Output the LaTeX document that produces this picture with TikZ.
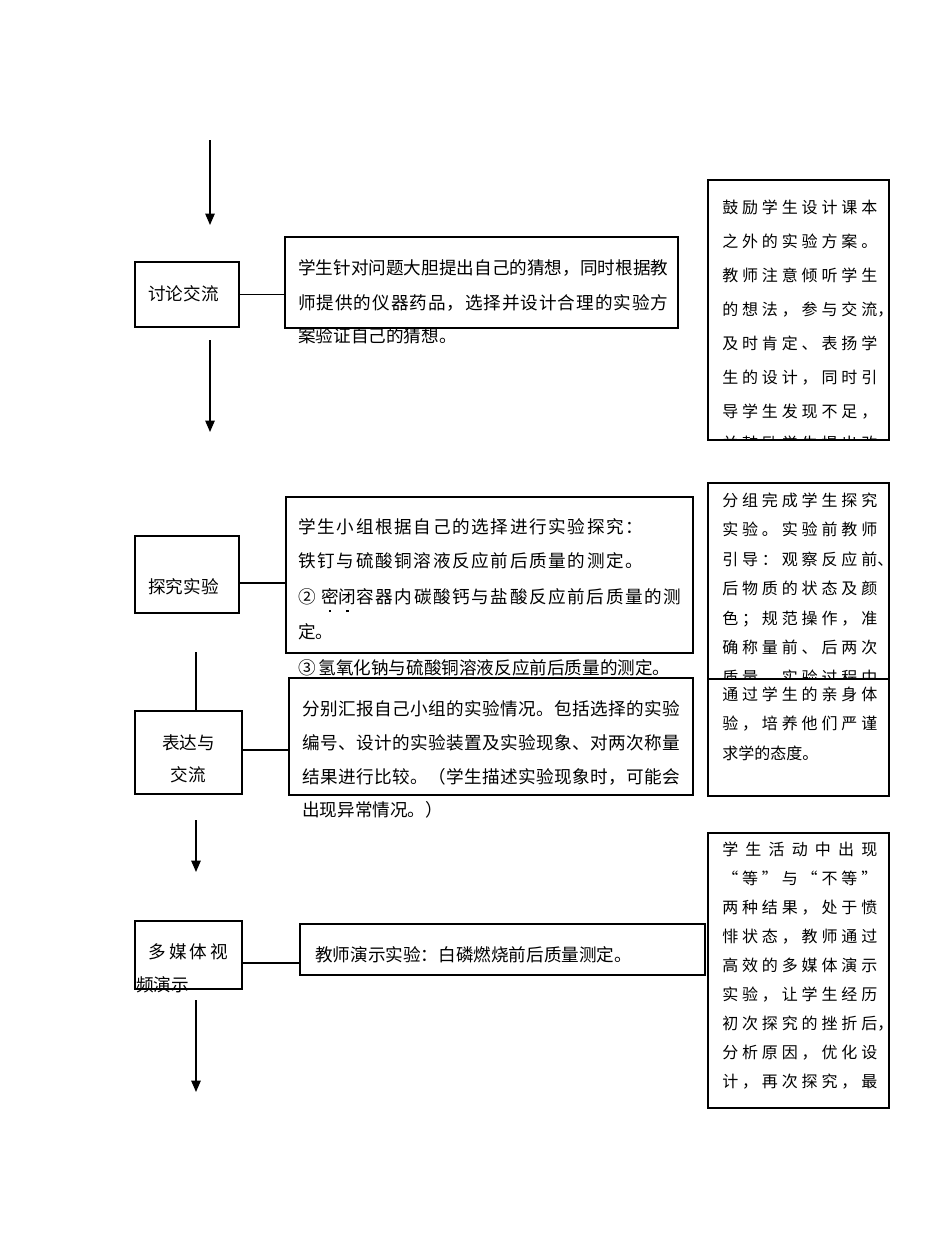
\documentclass[tikz,border=0pt]{standalone}
\usepackage{fontspec}
\newfontfamily\cjk{Noto Sans CJK SC}
\usetikzlibrary{arrows.meta}
\newcommand\emdot[1]{\setbox0=\hbox{#1}\makebox[0pt][l]{\makebox[\wd0]{\raisebox{-6.5pt}{\rule{1.8pt}{1.8pt}}}}\box0}
\newcommand\rbox[5]{\node[rect, anchor=north west, minimum width={(#4-#2)*0.75pt}, minimum height={(#5-#3)*0.75pt}] (#1) at (#2,#3) {};}
\newcommand\jl[2]{\makebox[#1][s]{\spaceskip=0pt plus 1fil\relax #2}}
\begin{document}
\begin{tikzpicture}[x=0.75pt,y=-0.75pt,
  rect/.style={draw, line width=0.9pt, inner sep=0pt, outer sep=0pt},
  txt/.style={anchor=base west, inner sep=0pt, font=\cjk\fontsize{13.2}{16}\selectfont},
  stxt/.style={anchor=base west, inner sep=0pt, font=\cjk\fontsize{12}{14}\selectfont},
  arr/.style={line width=1.2pt, -{Triangle[length=8.5pt,width=7pt]}},
  link/.style={line width=0.9pt}]
\fill[white] (0,0) rectangle (950,1235);
\useasboundingbox (0,0) rectangle (950,1235);

% boxes
\rbox{b1}{135}{262}{239}{327}
\rbox{b2}{135}{536}{239}{613}
\rbox{b3}{135}{711}{242}{794}
\rbox{b4}{135}{921}{242}{989}
\rbox{t1}{285}{237}{678}{328}
\rbox{t2}{286}{497}{693}{653}
\rbox{t3}{289}{678}{693}{795}
\rbox{t4}{300}{924}{705}{975}
\rbox{r1}{708}{180}{889}{440}
\rbox{r2}{708}{483}{889}{679}
\rbox{r3}{708}{679}{889}{796}
\rbox{r4}{708}{833}{889}{1108}

% arrows
\coordinate (a1s) at (210,140); \coordinate (a1e) at (210,225);
\coordinate (a2s) at (210,340); \coordinate (a2e) at (210,432);
\coordinate (a3s) at (196,820); \coordinate (a3e) at (196,872);
\coordinate (a4s) at (196,1000); \coordinate (a4e) at (196,1092);
\draw[arr] (a1s) -- (a1e);
\draw[arr] (a2s) -- (a2e);
\draw[arr] (a3s) -- (a3e);
\draw[arr] (a4s) -- (a4e);
\coordinate (v1) at (196,652);
\draw[link] (v1) -- (v1 |- b3.north);

% connectors
\draw[link] (b1.east) -- (b1.east -| t1.west);
\draw[link] ([yshift=-6.4pt]b2.east) -- ([yshift=-6.4pt]b2.east -| t2.west);
\draw[link] ([yshift=1.9pt]b3.east) -- ([yshift=1.9pt]b3.east -| t3.west);
\draw[link] ([yshift=-6pt]b4.east) -- ([yshift=-6pt]b4.east -| t4.west);

% left labels
\node[txt] (l1) at (148,300.5) {讨论交流};
\node[txt] (l2) at (148,593.5) {探究实验};
\node[txt, anchor=base] (l3a) at (188.5,749.5) {表达与};
\node[txt, anchor=base] (l3b) at (188.5,781.5) {交流};
\node[txt] (l4a) at (148,958.5) {\jl{60pt}{多 媒 体 视}};
\node[txt] (l4b) at (136,991.5) {频演示};

% text box 1
\node[txt] (p1a) at (298,274.5) {\jl{277.5pt}{学 生 针 对 问 题 大 胆 提 出 自 己 的 猜 想 ， 同 时 根 据 教}};
\node[txt] (p1b) at (298,309.5) {\jl{277.5pt}{师 提 供 的 仪 器 药 品 ， 选 择 并 设 计 合 理 的 实 验 方}};
\node[txt] (p1c) at (298,342.5) {案验证自己的猜想。};

% text box 2
\node[txt] (p2a) at (298,533.5) {\jl{258.75pt}{学 生 小 组 根 据 自 己 的 选 择 进 行 实 验 探 究 ：}};
\node[txt] (p2b) at (298,567.5) {\jl{258.75pt}{铁 钉 与 硫 酸 铜 溶 液 反 应 前 后 质 量 的 测 定 。}};
\node[txt] (p2c) at (298,603.5) {\jl{287.25pt}{②\kern4pt \emdot{密} \emdot{闭} 容 器 内 碳 酸 钙 与 盐 酸 反 应 前 后 质 量 的 测}};
\node[txt] (p2d) at (298,638.5) {定。};
\node[txt] (p2e) at (298,674.5) {③\kern2pt 氢氧化钠与硫酸铜溶液反应前后质量的测定。};

% text box 3
\node[txt] (p3a) at (302,715.5) {\jl{283.5pt}{分 别 汇 报 自 己 小 组 的 实 验 情 况 。 包 括 选 择 的 实 验}};
\node[txt] (p3b) at (302,749.5) {\jl{283.5pt}{编 号 、 设 计 的 实 验 装 置 及 实 验 现 象 、 对 两 次 称 量}};
\node[txt] (p3c) at (302,783.5) {\jl{283.5pt}{结 果 进 行 比 较 。 （ 学 生 描 述 实 验 现 象 时 ， 可 能 会}};
\node[txt] (p3d) at (302,816.5) {出现异常情况。）};

% text box 4
\node[txt] (p4a) at (315,961.5) {教师演示实验：白磷燃烧前后质量测定。};

% right box 1
\begin{scope}
\clip (708,180) rectangle (889,440);
\node[stxt] (q1a) at (722,213) {\jl{116.25pt}{鼓 励 学 生 设 计 课 本}};
\node[stxt] (q1b) at (722,247) {\jl{116.25pt}{之 外 的 实 验 方 案 。}};
\node[stxt] (q1c) at (722,281) {\jl{116.25pt}{教 师 注 意 倾 听 学 生}};
\node[stxt] (q1d) at (722,315) {\jl{116.25pt}{的 想 法 ， 参 与 交 流}\rlap{，}};
\node[stxt] (q1e) at (722,349) {\jl{116.25pt}{及 时 肯 定 、 表 扬 学}};
\node[stxt] (q1f) at (722,383) {\jl{116.25pt}{生 的 设 计 ， 同 时 引}};
\node[stxt] (q1g) at (722,417) {\jl{116.25pt}{导 学 生 发 现 不 足 ，}};
\node[stxt] (q1h) at (722,449) {\jl{116.25pt}{并 鼓 励 学 生 提 出 改}};
\end{scope}

% right box 2
\begin{scope}
\clip (708,483) rectangle (889,679);
\node[stxt] (q2a) at (722,506) {\jl{116.25pt}{分 组 完 成 学 生 探 究}};
\node[stxt] (q2b) at (722,535.5) {\jl{116.25pt}{实 验 。 实 验 前 教 师}};
\node[stxt] (q2c) at (722,565) {\jl{116.25pt}{引 导 ： 观 察 反 应 前}\rlap{、}};
\node[stxt] (q2d) at (722,594.5) {\jl{116.25pt}{后 物 质 的 状 态 及 颜}};
\node[stxt] (q2e) at (722,624) {\jl{116.25pt}{色 ； 规 范 操 作 ， 准}};
\node[stxt] (q2f) at (722,653.5) {\jl{116.25pt}{确 称 量 前 、 后 两 次}};
\node[stxt] (q2g) at (722,683) {\jl{116.25pt}{质 量 。 实 验 过 程 中}};
\end{scope}

% right box 3
\node[stxt] (q3a) at (722,700) {\jl{116.25pt}{通 过 学 生 的 亲 身 体}};
\node[stxt] (q3b) at (722,729.5) {\jl{116.25pt}{验 ， 培 养 他 们 严 谨}};
\node[stxt] (q3c) at (722,759) {求学的态度。};

% right box 4
\node[stxt] (q4a) at (722,855) {\jl{116.25pt}{学 生 活 动 中 出 现}};
\node[stxt] (q4b) at (722,884) {\jl{116.25pt}{“ 等 ” 与 “ 不 等 ”}};
\node[stxt] (q4c) at (722,913) {\jl{116.25pt}{两 种 结 果 ， 处 于 愤}};
\node[stxt] (q4d) at (722,942) {\jl{116.25pt}{悱 状 态 ， 教 师 通 过}};
\node[stxt] (q4e) at (722,971) {\jl{116.25pt}{高 效 的 多 媒 体 演 示}};
\node[stxt] (q4f) at (722,1000) {\jl{116.25pt}{实 验 ， 让 学 生 经 历}};
\node[stxt] (q4g) at (722,1029) {\jl{116.25pt}{初 次 探 究 的 挫 折 后}\rlap{，}};
\node[stxt] (q4h) at (722,1058) {\jl{116.25pt}{分 析 原 因 ， 优 化 设}};
\node[stxt] (q4i) at (722,1087) {\jl{116.25pt}{计 ， 再 次 探 究 ， 最}};
\end{tikzpicture}
\end{document}
